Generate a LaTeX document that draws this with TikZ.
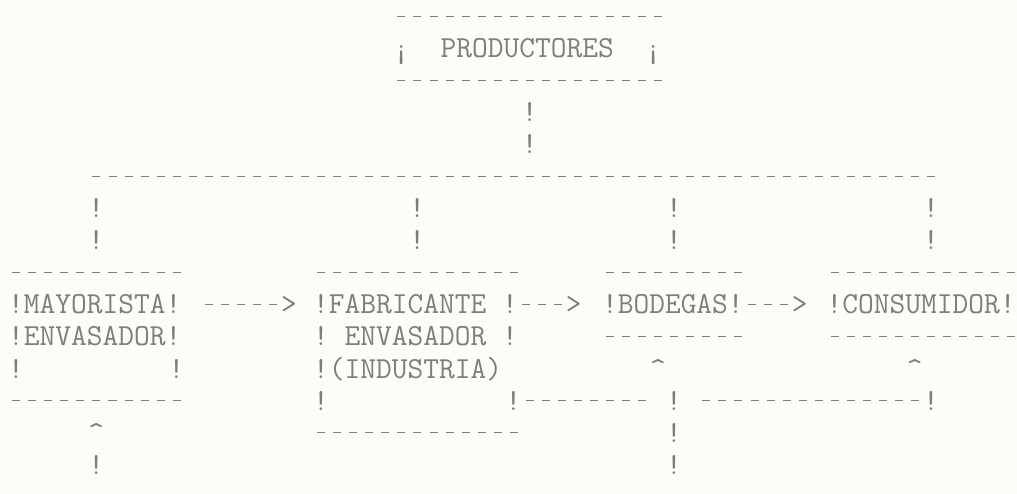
\documentclass[tikz,border=0pt]{standalone}
\usepackage{fontspec}
\setmonofont{Latin Modern Mono}
\usepackage{xcolor}
\definecolor{paper}{HTML}{FDFDF7}
\definecolor{ink}{HTML}{7E7E7E}

\begin{document}
\begin{tikzpicture}[x=16.05pt,y=-32pt]
    \tikzstyle{typed}=[
      anchor=west,
      inner sep=0pt,
      text height=18pt,
      text depth=0pt,
      text=ink,
      font=\ttfamily\fontsize{30.57}{32}\selectfont,
    ]
    \newcommand{\col}[1]{#1-0.5}
    \newcommand{\dashes}[1]{\foreach \i in {1,...,#1}{\makebox[16.05pt]{\rule[8.6pt]{8pt}{1.7pt}}}}

    \fill[paper] (-16pt,17pt) rectangle (1001pt,-477pt);
    \useasboundingbox (-16pt,17pt) rectangle (1001pt,-477pt);

    \node[typed] (prod top) at (\col{24},0) {\dashes{17}};
    \node[typed] (prod) at (\col{24},1) {¡~~PRODUCTORES~~¡};
    \node[typed] (prod bottom) at (\col{24},2) {\dashes{17}};
    \node[typed] (stem a) at (\col{32},3) {!};
    \node[typed] (stem b) at (\col{32},4) {!};

    \node[typed] (bar) at (\col{5},5) {\dashes{53}};

    \foreach \c/\n in {5/may,25/fab,41/bod,57/con}{
      \node[typed] (\n\space drop a) at (\col{\c},6) {!};
      \node[typed] (\n\space drop b) at (\col{\c},7) {!};
    }

    \node[typed] (may top) at (\col{0},8) {\dashes{11}};
    \node[typed] (fab top) at (\col{19},8) {\dashes{13}};
    \node[typed] (bod top) at (\col{37},8) {\dashes{9}};
    \node[typed] (con top) at (\col{51},8) {\dashes{12}};

    \node[typed] (may) at (\col{0},9) {!MAYORISTA!};
    \node[typed] (may arrow) at (\col{12},9) {\dashes{5}>};
    \node[typed] (fab) at (\col{19},9) {!FABRICANTE~!\dashes{3}>};
    \node[typed] (bod) at (\col{37},9) {!BODEGAS!\dashes{3}>};
    \node[typed] (con) at (\col{51},9) {!CONSUMIDOR!};

    \node[typed] (may second) at (\col{0},10) {!ENVASADOR!};
    \node[typed] (fab second) at (\col{19},10) {!~ENVASADOR~!};
    \node[typed] (bod bottom) at (\col{37},10) {\dashes{9}};
    \node[typed] (con bottom) at (\col{51},10) {\dashes{12}};

    \node[typed] (may left) at (\col{0},11) {!};
    \node[typed] (may right) at (\col{10},11) {!};
    \node[typed] (fab third) at (\col{19},11) {!(INDUSTRIA)};
    \node[typed] (bod tip) at (\col{40},11) {\textasciicircum};
    \node[typed] (con tip) at (\col{56},11) {\textasciicircum};

    \node[typed] (may bottom) at (\col{0},12) {\dashes{11}};
    \node[typed] (fab left) at (\col{19},12) {!};
    \node[typed] (fab right) at (\col{31},12) {!\dashes{8}};
    \node[typed] (bod stem a) at (\col{41},12) {!};
    \node[typed] (con return) at (\col{43},12) {\dashes{14}!};

    \node[typed] (may tip) at (\col{5},13) {\textasciicircum};
    \node[typed] (fab bottom) at (\col{19},13) {\dashes{13}};
    \node[typed] (bod stem b) at (\col{41},13) {!};

    \node[typed] (may stem) at (\col{5},14) {!};
    \node[typed] (bod stem c) at (\col{41},14) {!};
\end{tikzpicture}
\end{document}
